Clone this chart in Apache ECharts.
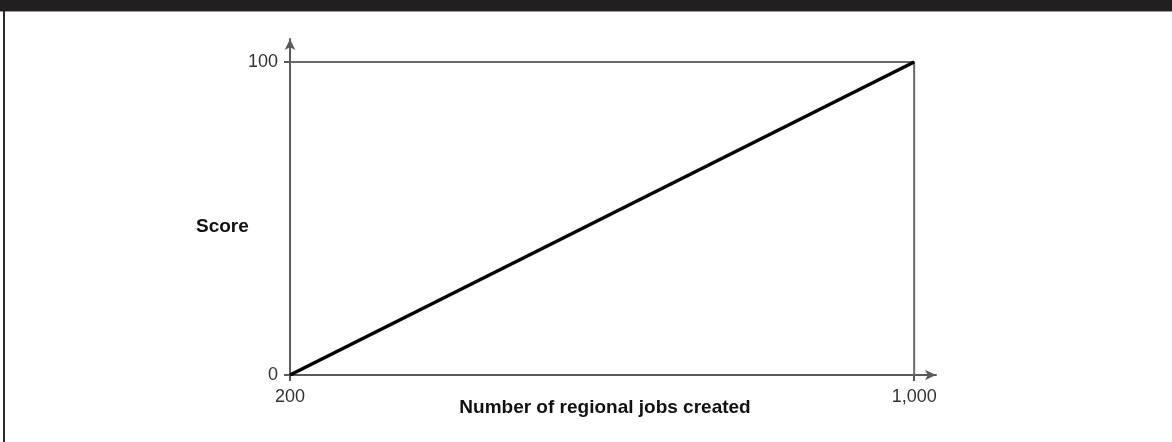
<!DOCTYPE html>
<html>
<head>
<meta charset="utf-8">
<script src="https://cdn.jsdelivr.net/npm/echarts@6/dist/echarts.min.js"></script>
<style>
  html, body { margin: 0; padding: 0; background: #fff; }
  #wrap { position: relative; width: 1172px; height: 442px; overflow: hidden; background: #fff; }
  #topbar { position: absolute; left: 0; top: 0; width: 1172px; height: 11px; background: #231f20; border-bottom: 1px solid #9a9a9a; }
  #leftbar { position: absolute; left: 3px; top: 11px; width: 2px; height: 431px; background: #2a2a2a; }
  #chart { position: absolute; left: 0; top: 0; width: 1172px; height: 442px; }
</style>
</head>
<body>
<div id="wrap">
  <div id="chart"></div>
  <div id="topbar"></div>
  <div id="leftbar"></div>
</div>
<script>
// Data
const jobs = [200, 1000];          // x: number of regional jobs created
const scores = [0, 100];           // y: score
const xTickValues = [200, 1000];
const yTickValues = [0, 100];
const xAxisName = 'Number of regional jobs created';
const yAxisName = 'Score';

const lineData = jobs.map((j, i) => [j, scores[i]]);
const boxData = [[jobs[0], scores[1]], [jobs[1], scores[1]], [jobs[1], scores[0]]];

const chart = echarts.init(document.getElementById('chart'), null, { renderer: 'canvas' });
const fontFam = '"Liberation Sans", Arial, Helvetica, sans-serif';
const axisColor = '#5a5a5a';

chart.setOption({
  animation: false,
  backgroundColor: 'transparent',
  title: {
    text: yAxisName,
    left: 196,
    top: 217,
    padding: 0,
    textStyle: { fontSize: 19, fontWeight: 'bold', color: '#111', fontFamily: fontFam }
  },
  grid: { left: 290, right: 236, top: 39, bottom: 67, containLabel: false },
  xAxis: {
    type: 'value',
    min: 200,
    max: 1028,
    splitLine: { show: false },
    axisLine: { show: true, lineStyle: { color: axisColor, width: 2 }, symbol: ['none', 'arrow'], symbolSize: [8, 11] },
    axisTick: { show: true, customValues: xTickValues, length: 6, inside: false, lineStyle: { color: axisColor, width: 2 } },
    axisLabel: {
      customValues: xTickValues,
      formatter: v => v.toLocaleString('en-US'),
      color: '#333', fontSize: 18, fontFamily: fontFam, margin: 13
    },
    name: xAxisName,
    nameLocation: 'middle',
    nameGap: 23,
    nameMoveOverlap: false,
    nameTextStyle: { fontSize: 19, fontWeight: 'bold', color: '#111', fontFamily: fontFam, padding: [0, 16, 0, 0] }
  },
  yAxis: {
    type: 'value',
    min: 0,
    max: 107.35,
    splitLine: { show: false },
    axisLine: { show: true, lineStyle: { color: axisColor, width: 2 }, symbol: ['none', 'arrow'], symbolSize: [8, 11] },
    axisTick: { show: true, customValues: yTickValues, length: 6, inside: false, lineStyle: { color: axisColor, width: 2 } },
    axisLabel: {
      customValues: yTickValues,
      color: '#333', fontSize: 18, fontFamily: fontFam, margin: 12
    }
  },
  series: [
    {
      type: 'line',
      data: boxData,
      symbol: 'none',
      silent: true,
      lineStyle: { color: '#6a6a6a', width: 2 },
      z: 2
    },
    {
      type: 'line',
      data: lineData,
      symbol: 'none',
      silent: true,
      lineStyle: { color: '#000', width: 3.5 },
      z: 3
    }
  ]
});
</script>
</body>
</html>
